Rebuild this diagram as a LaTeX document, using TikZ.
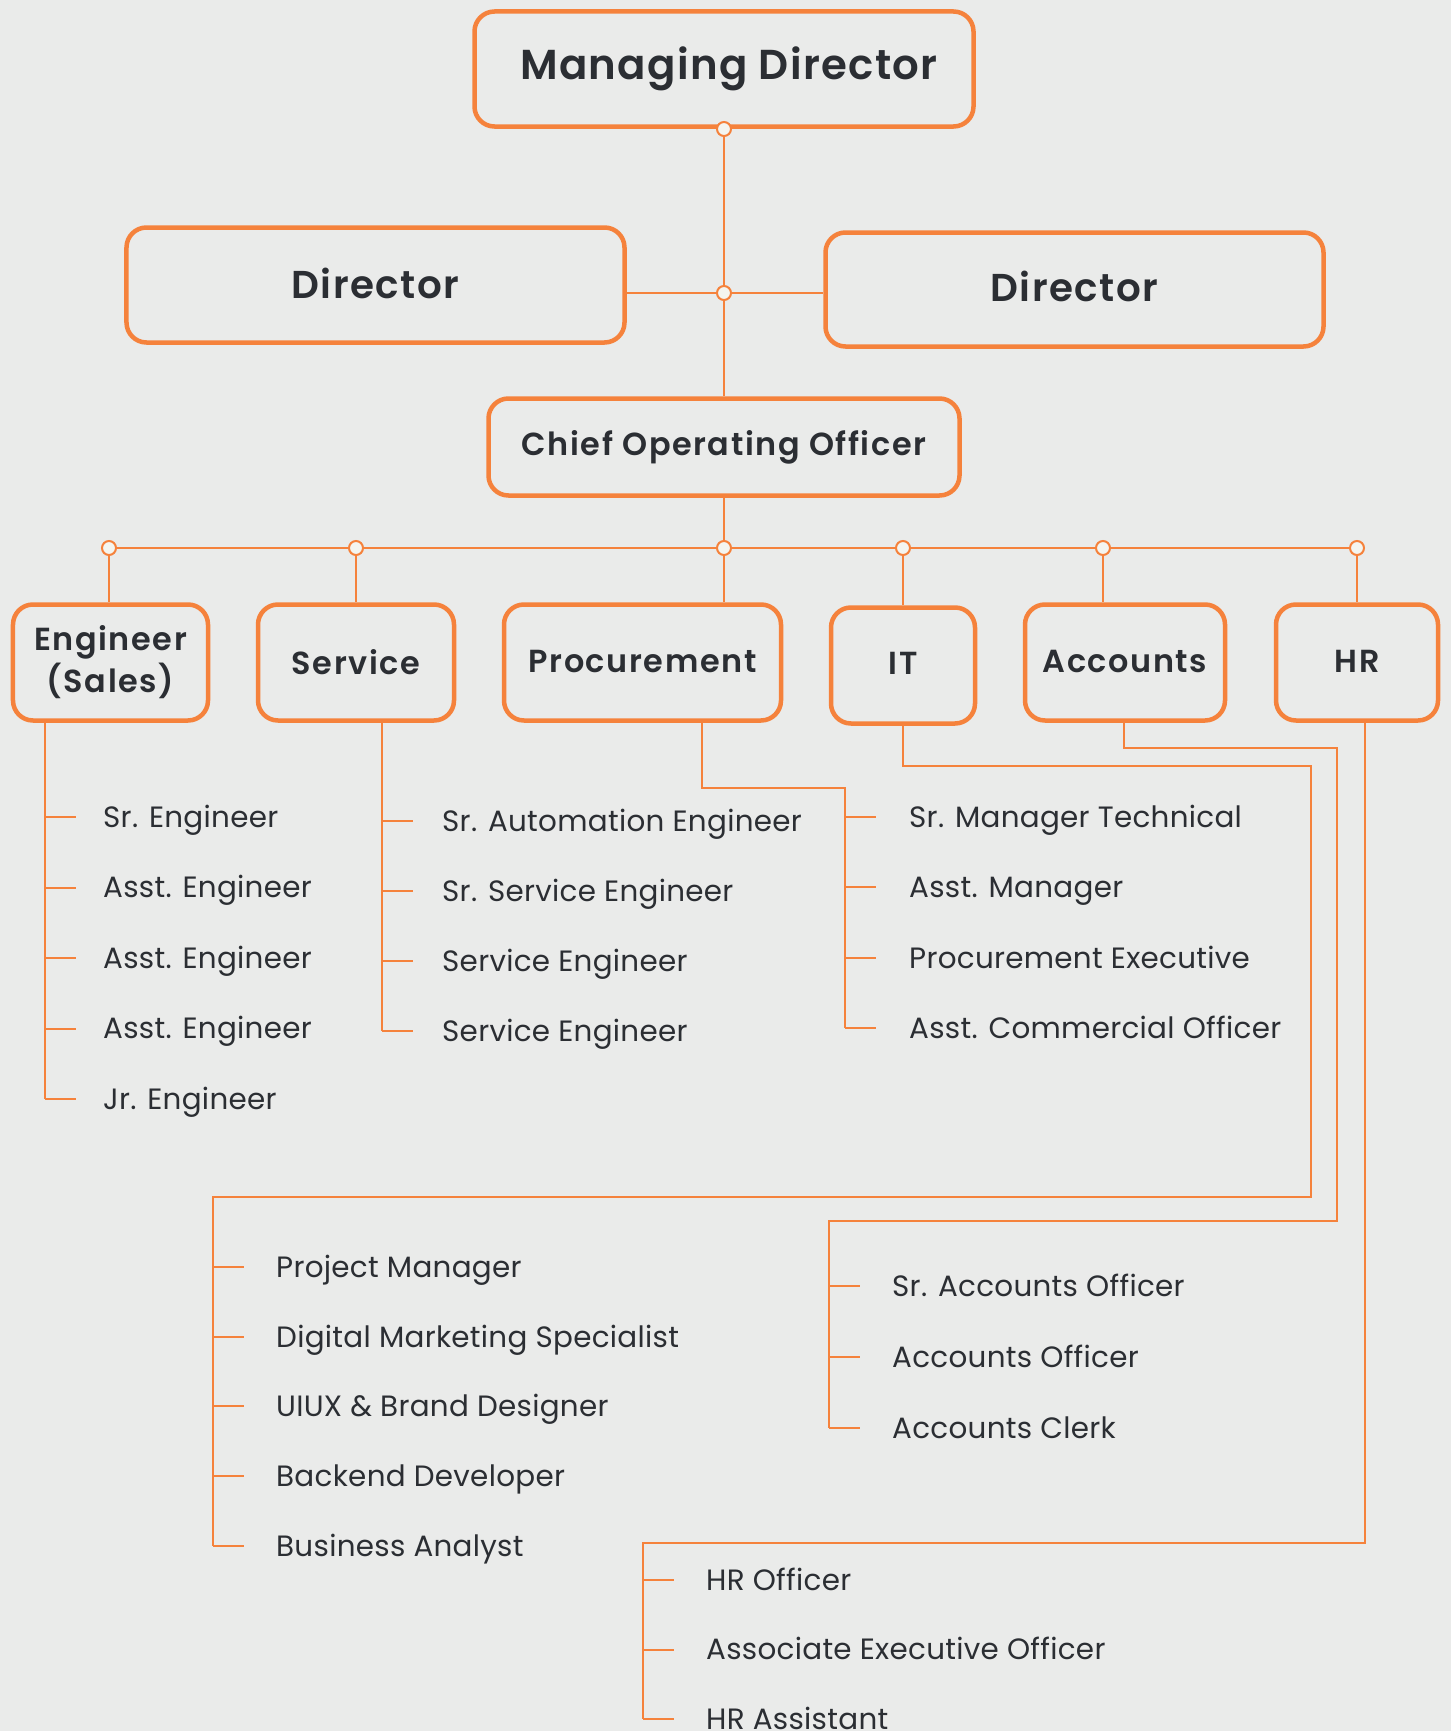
\documentclass[tikz,border=0pt]{standalone}
\usepackage{fontspec}
\setmainfont{Poppins}[BoldFont={Poppins SemiBold}]
\definecolor{bg}{HTML}{EAEBEA}
\definecolor{org}{HTML}{F5823C}
\definecolor{txt}{HTML}{2B2E33}
\definecolor{dotfill}{HTML}{F4F5F0}
\pgfdeclarelayer{back}
\pgfsetlayers{back,main}
\newcommand\orgitem[5]{%
  \node[item] (#1) at (#3,#4+10) {#5};
  \begin{pgfonlayer}{back}
  \draw[link] (#1.base west) ++({#2-#3},-10) -- ++(31,0);
  \end{pgfonlayer}}
\begin{document}
\begin{tikzpicture}[x=1bp,y=-1bp,
  box/.style={draw=org, line width=4.5bp, rounded corners=20bp, text=txt,
    align=center, inner sep=0},
  link/.style={draw=org, line width=2bp},
  dot/.style={circle, draw=org, fill=dotfill, line width=2bp, minimum size=14bp, inner sep=0},
  item/.style={anchor=base west, inner sep=0, text=txt,
    font=\fontsize{29.5}{34}\selectfont\addfontfeatures{LetterSpace=1.0}}]
\begin{pgfonlayer}{back}
\fill[bg] (0,0) rectangle (1451,1731);
\end{pgfonlayer}
\useasboundingbox (0,0) rectangle (1451,1731);

% top boxes
\node[box, minimum width=499bp, minimum height=115bp, font=\bfseries\fontsize{42}{48}\selectfont\addfontfeatures{LetterSpace=3.2}] (md) at (724,69) {\hspace*{10bp}\raisebox{2bp}{Managing Director}};
\node[box, minimum width=498bp, minimum height=115bp, font=\bfseries\fontsize{39}{45}\selectfont\addfontfeatures{LetterSpace=4}] (dl) at (375.5,285) {\raisebox{3bp}{Director}};
\node[box, minimum width=498bp, minimum height=114bp, font=\bfseries\fontsize{39}{45}\selectfont\addfontfeatures{LetterSpace=4}] (dr) at (1074.5,289.5) {\raisebox{7bp}{Director}};
\node[box, minimum width=471bp, minimum height=97bp, font=\bfseries\fontsize{32}{38}\selectfont\addfontfeatures{LetterSpace=5}] (coo) at (724,447) {Chief Operating Officer};

% departments
\tikzset{dept/.style={box, minimum height=116bp, font=\bfseries\fontsize{32}{42}\selectfont\addfontfeatures{LetterSpace=5}}}
\node[dept, minimum width=195bp] (eng) at (110.5,662.5) {Engineer\\(Sales)};
\node[dept, minimum width=196bp] (svc) at (356,662.5) {\raisebox{2bp}{Service}};
\node[dept, minimum width=277bp] (proc) at (642.5,662.5) {\raisebox{2bp}{Procurement}};
\node[dept, minimum width=144bp] (it) at (903,665.5) {\raisebox{4bp}{IT}};
\node[dept, minimum width=200bp] (acc) at (1125,662.5) {\raisebox{2bp}{Accounts}};
\node[dept, minimum width=162bp] (hr) at (1357,662.5) {\raisebox{2bp}{HR}};

% dots
\node[dot] (d0) at (724,129) {};
\node[dot] (j1) at (724,293) {};
\node[dot] (b1) at (109,548) {};
\node[dot] (b2) at (356,548) {};
\node[dot] (b3) at (724,548) {};
\node[dot] (b4) at (903,548) {};
\node[dot] (b5) at (1103,548) {};
\node[dot] (b6) at (1357,548) {};

\coordinate (esx) at (45,0);
\coordinate (ssx) at (382,0);
\coordinate (psx) at (702,0);
\coordinate (asx) at (1124,0);
\coordinate (hsx) at (1365,0);

\begin{pgfonlayer}{back}
\draw[link] (d0.center) -- (j1.center) -- (coo.north);
\draw[link] (j1 -| dl.east) -- (j1 -| dr.west);
\draw[link] (coo.south) -- (b3.center);
\draw[link] (b1.center) -- (b6.center);
\draw[link] (b1.center) -- (b1 |- eng.north);
\draw[link] (b2.center) -- (b2 |- svc.north);
\draw[link] (b3.center) -- (b3 |- proc.north);
\draw[link] (b4.center) -- (b4 |- it.north);
\draw[link] (b5.center) -- (b5 |- acc.north);
\draw[link] (b6.center) -- (b6 |- hr.north);
% spines
\draw[link] (eng.south -| esx) -- (45,1099);
\draw[link] (svc.south -| ssx) -- (382,1031);
\draw[link] (proc.south -| psx) -- (702,788) -- (845,788) -- (845,1028);
\draw[link] (it.south) -- (903,766) -- (1311,766) -- (1311,1197) -- (213,1197) -- (213,1546);
\draw[link] (acc.south -| asx) -- (1124,748) -- (1337,748) -- (1337,1221) -- (829,1221) -- (829,1428);
\draw[link] (hr.south -| hsx) -- (1365,1543) -- (643,1543) -- (643,1719);
\end{pgfonlayer}

% Engineer list
\orgitem{e1}{45}{103}{817}{Sr. Engineer}
\orgitem{e2}{45}{103}{887.5}{Asst. Engineer}
\orgitem{e3}{45}{103}{958}{Asst. Engineer}
\orgitem{e4}{45}{103}{1028.5}{Asst. Engineer}
\orgitem{e5}{45}{103}{1099}{Jr. Engineer}
% Service list
\orgitem{s1}{382}{442}{821}{Sr. Automation Engineer}
\orgitem{s2}{382}{442}{891}{Sr. Service Engineer}
\orgitem{s3}{382}{442}{961}{Service Engineer}
\orgitem{s4}{382}{442}{1031}{Service Engineer}
% Procurement list
\orgitem{p1}{845}{909}{817}{Sr. Manager Technical}
\orgitem{p2}{845}{909}{887}{Asst. Manager}
\orgitem{p3}{845}{909}{958}{Procurement Executive}
\orgitem{p4}{845}{909}{1028}{Asst. Commercial Officer}
% IT list
\orgitem{i1}{213}{276}{1267}{Project Manager}
\orgitem{i2}{213}{276}{1337}{Digital Marketing Specialist}
\orgitem{i3}{213}{276}{1406}{UIUX \& Brand Designer}
\orgitem{i4}{213}{276}{1476}{Backend Developer}
\orgitem{i5}{213}{276}{1546}{Business Analyst}
% Accounts list
\orgitem{a1}{829}{892}{1286}{Sr. Accounts Officer}
\orgitem{a2}{829}{892}{1357}{Accounts Officer}
\orgitem{a3}{829}{892}{1428}{Accounts Clerk}
% HR list
\orgitem{h1}{643}{706}{1580}{HR Officer}
\orgitem{h2}{643}{706}{1649.5}{Associate Executive Officer}
\orgitem{h3}{643}{706}{1719}{HR Assistant}
\end{tikzpicture}
\end{document}
